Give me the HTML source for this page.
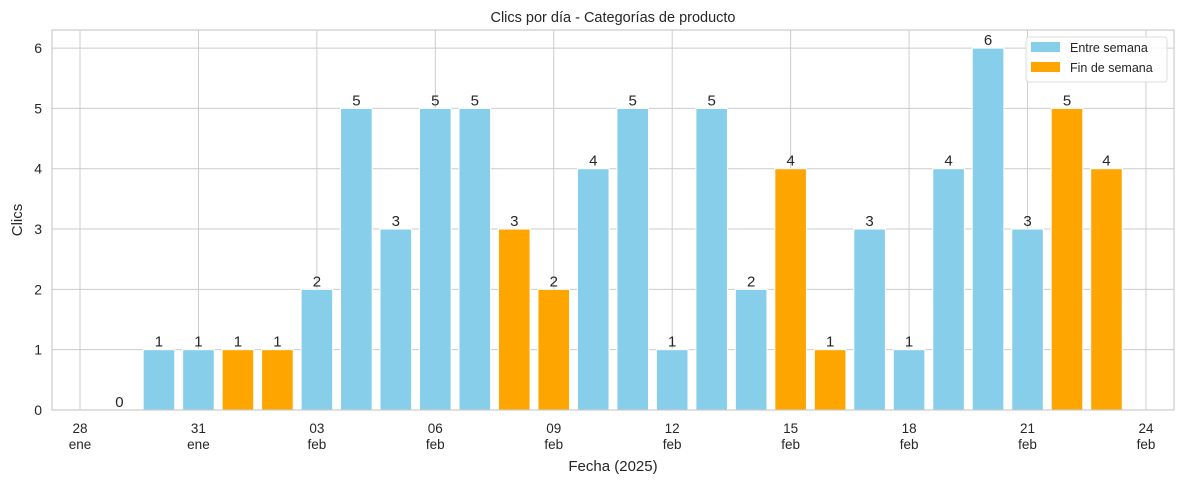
<!DOCTYPE html>
<html><head><meta charset="utf-8"><style>
body{margin:0;background:#fff;font-family:"Liberation Sans",Arial,sans-serif}
svg text{font-family:"Liberation Sans",Arial,sans-serif}
</style></head><body>
<svg id="chart" width="1184" height="484" xmlns="http://www.w3.org/2000/svg"></svg>
<script>
const dates = ["29 ene","30 ene","31 ene","1 feb","2 feb","3 feb","4 feb","5 feb","6 feb","7 feb","8 feb","9 feb","10 feb","11 feb","12 feb","13 feb","14 feb","15 feb","16 feb","17 feb","18 feb","19 feb","20 feb","21 feb","22 feb","23 feb"];
const clicks = [0,1,1,1,1,2,5,3,5,5,3,2,4,5,1,5,2,4,1,3,1,4,6,3,5,4];
const weekend = [0,0,0,1,1,0,0,0,0,0,1,1,0,0,0,0,0,1,1,0,0,0,0,0,1,1];
const yTicks = [0,1,2,3,4,5,6];
const xTickDays = [0,3,6,9,12,15,18,21,24,27];
const xTickDay = ["28","31","03","06","09","12","15","18","21","24"];
const xTickMonth = ["ene","ene","feb","feb","feb","feb","feb","feb","feb","feb"];

const svg = document.getElementById('chart');
const NS = "http://www.w3.org/2000/svg";
const L=52,R=1174,T=30,B=410;
const x0=80, pxDay=39.48;
const X = d => x0 + d*pxDay;
const yMax=6.3;
const Y = v => B - v/yMax*(B-T);
function el(tag, attrs, parent){const e=document.createElementNS(NS,tag);for(const k in attrs)e.setAttribute(k,attrs[k]);(parent||svg).appendChild(e);return e;}

const bg = el('rect',{x:L,y:T,width:R-L,height:B-T,fill:'#fff'});


yTicks.forEach(v=>{
  const g=el('line',{x1:L,x2:R,y1:Y(v),y2:Y(v),stroke:'#cccccc','stroke-width':1});
  
  
  const t=el('text',{x:L-10,y:Y(v)+5,'text-anchor':'end','font-size':14,fill:'#262626'});
  t.textContent=v;
  
  
});
xTickDays.forEach((d,i)=>{
  const g=el('line',{x1:X(d),x2:X(d),y1:T,y2:B,stroke:'#cccccc','stroke-width':1});
  
  
  const t=el('text',{x:X(d),y:433,'text-anchor':'middle','font-size':13.5,fill:'#262626'});
  t.textContent=xTickDay[i];
  
  
  const t2=el('text',{x:X(d),y:449,'text-anchor':'middle','font-size':13.5,fill:'#262626'});
  t2.textContent=xTickMonth[i];
  
  
});
const bw=0.8*pxDay;
clicks.forEach((v,i)=>{
  const d=i+1;
  const r=el('rect',{x:X(d)-bw/2,y:Y(v),width:bw,height:B-Y(v),fill:weekend[i]?'#ffa500':'#87ceeb',stroke:'#ffffff','stroke-width':1});
  
  
  const t=el('text',{x:X(d),y:Y(v)-3,'text-anchor':'middle','font-size':15,fill:'#262626'});
  t.textContent=v;
  
  
});
const fr=el('rect',{x:L,y:T,width:R-L,height:B-T,fill:'none',stroke:'#cccccc','stroke-width':1.2});


const title=el('text',{x:(L+R)/2,y:22,'text-anchor':'middle','font-size':14.5,fill:'#262626'});
title.textContent='Clics por día - Categorías de producto';


const xt=el('text',{x:(L+R)/2,y:471,'text-anchor':'middle','font-size':15,fill:'#262626'});
xt.textContent='Fecha (2025)';


const yt=el('text',{x:22,y:(T+B)/2,'text-anchor':'middle','font-size':15,fill:'#262626',transform:'rotate(-90 22 '+((T+B)/2)+')'});
yt.textContent='Clics';


const lg=el('g',{});


el('rect',{x:1026,y:37,width:141,height:45,rx:3,fill:'#fff','fill-opacity':0.85,stroke:'#dddddd'},lg);
[['Entre semana','#87ceeb',48],['Fin de semana','#ffa500',68]].forEach(([lab,c,y])=>{
  const e=el('g',{},lg);
  
  
  el('rect',{x:1031,y:y-6,width:29,height:10,fill:c},e);
  const t=el('text',{x:1070,y:y+4,'font-size':12.5,fill:'#262626'},e);
  t.textContent=lab;
});
</script>
</body></html>
